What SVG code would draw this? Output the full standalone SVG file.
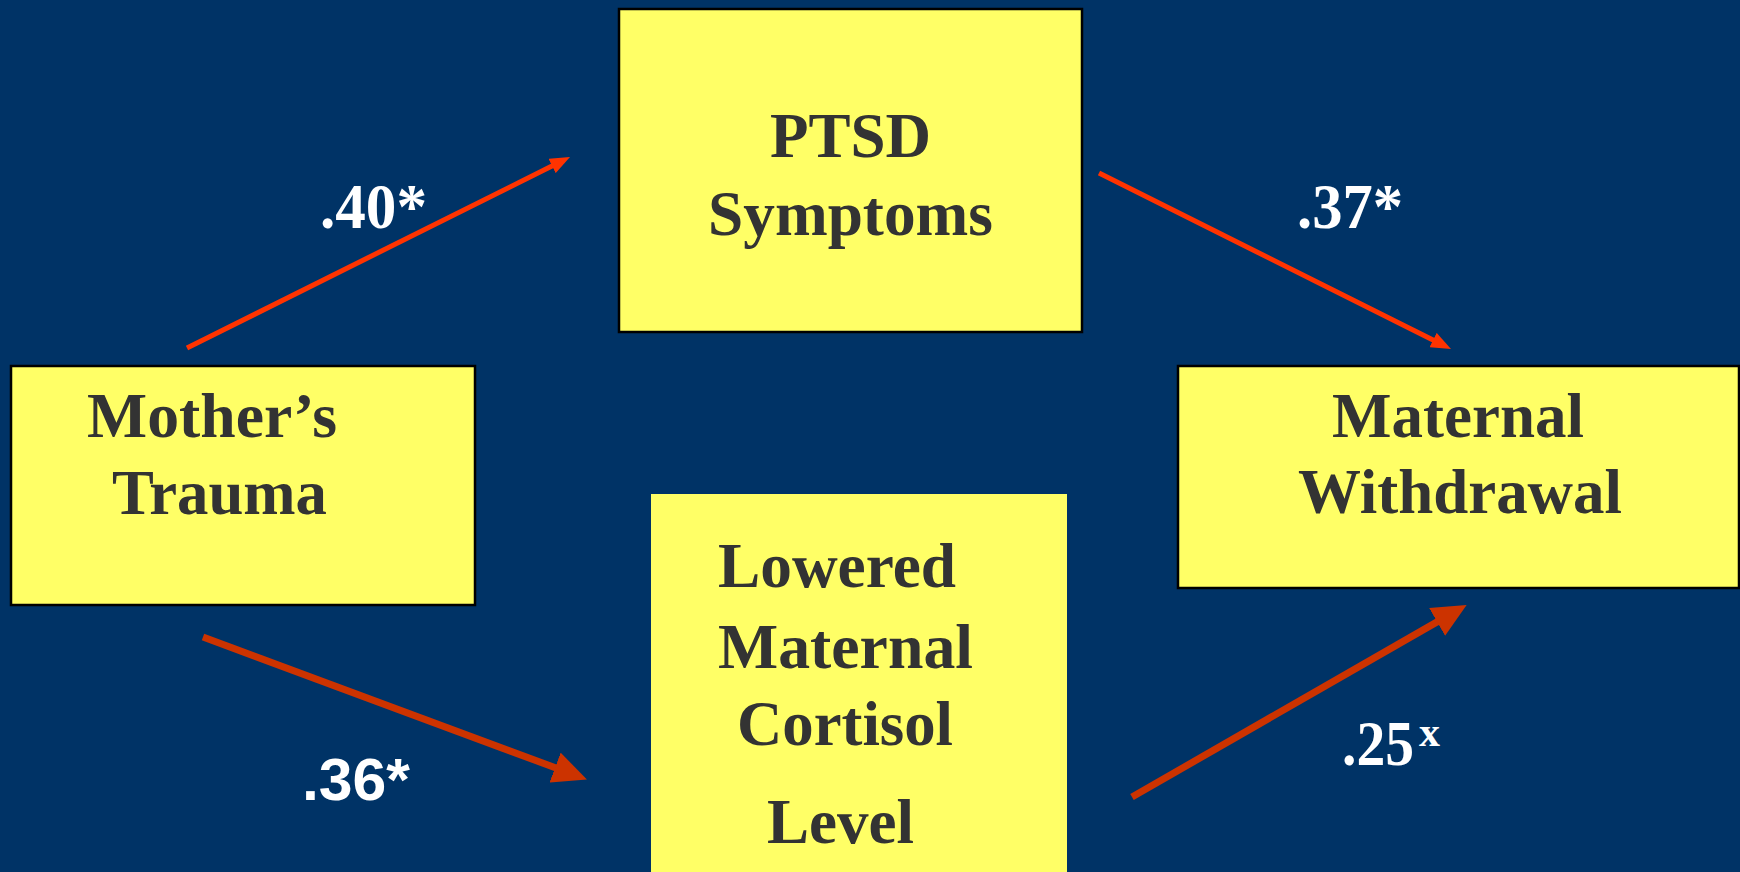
<svg xmlns="http://www.w3.org/2000/svg" width="1740" height="872" viewBox="0 0 1740 872">
<style>
.box{fill:#FFFF66;stroke:#000;stroke-width:2.5}
.nb{fill:#FFFF66}
.t{font-family:"Liberation Serif","Times New Roman",serif;font-weight:bold;font-size:64px;fill:#333333}
.lab{font-family:"Liberation Serif","Times New Roman",serif;font-weight:bold;font-size:64px;fill:#FFFFFF}
.labs{font-family:"Liberation Sans",Arial,sans-serif;font-weight:bold;font-size:60px;fill:#FFFFFF}
.a1{stroke:#FF3300;stroke-width:5;fill:none}
.a2{stroke:#CC3300;stroke-width:7;fill:none}
</style>
<defs>
<marker id="hs" markerUnits="userSpaceOnUse" markerWidth="20" markerHeight="16" viewBox="0 0 20 16" refX="1" refY="8" orient="auto"><path d="M0,0 L20,8 L0,16 z" fill="#FF3300"/></marker>
<marker id="hl" markerUnits="userSpaceOnUse" markerWidth="34" markerHeight="32" viewBox="0 0 34 32" refX="1" refY="16" orient="auto"><path d="M0,0 L34,16 L0,32 z" fill="#CC3300"/></marker>
</defs>
<rect x="0" y="0" width="1740" height="872" fill="#003366"/>
<g id="ptsd">
<rect class="box" x="619" y="9" width="463" height="323"/>
<text class="t" x="770" y="157" textLength="161" lengthAdjust="spacingAndGlyphs">PTSD</text>
<text class="t" x="708" y="235" textLength="285" lengthAdjust="spacingAndGlyphs">Symptoms</text>
</g>
<g id="mother">
<rect class="box" x="11" y="366" width="464" height="239"/>
<text class="t" x="87" y="437" textLength="250" lengthAdjust="spacingAndGlyphs">Mother’s</text>
<text class="t" x="112" y="514" textLength="215" lengthAdjust="spacingAndGlyphs">Trauma</text>
</g>
<g id="withdrawal">
<rect class="box" x="1178" y="366" width="561" height="222"/>
<text class="t" x="1332" y="437" textLength="252" lengthAdjust="spacingAndGlyphs">Maternal</text>
<text class="t" x="1298" y="513" textLength="324" lengthAdjust="spacingAndGlyphs">Withdrawal</text>
</g>
<g id="cortisol">
<rect class="nb" x="651" y="494" width="416" height="380"/>
<text class="t" x="718" y="587" textLength="238" lengthAdjust="spacingAndGlyphs">Lowered</text>
<text class="t" x="718" y="668" textLength="255" lengthAdjust="spacingAndGlyphs">Maternal</text>
<text class="t" x="737" y="745" textLength="216" lengthAdjust="spacingAndGlyphs">Cortisol</text>
<text class="t" x="767" y="843" textLength="147" lengthAdjust="spacingAndGlyphs">Level</text>
</g>
<g id="connectors">
<line class="a1" x1="187" y1="348" x2="553" y2="165.5" marker-end="url(#hs)"/>
<line class="a1" x1="1099" y1="173" x2="1434" y2="340.5" marker-end="url(#hs)"/>
<line class="a2" x1="203" y1="637" x2="556" y2="768" marker-end="url(#hl)"/>
<line class="a2" x1="1132" y1="797" x2="1438" y2="621.4" marker-end="url(#hl)"/>
<text class="lab" x="320" y="228" textLength="107" lengthAdjust="spacingAndGlyphs">.40*</text>
<text class="lab" x="1297" y="228" textLength="106" lengthAdjust="spacingAndGlyphs">.37*</text>
<text class="labs" x="302" y="800" textLength="108" lengthAdjust="spacingAndGlyphs">.36*</text>
<text class="lab" x="1342" y="765" textLength="72" lengthAdjust="spacingAndGlyphs">.25</text>
<text class="lab" x="1419" y="746" style="font-size:40px" textLength="21" lengthAdjust="spacingAndGlyphs">x</text>
</g>
</svg>
